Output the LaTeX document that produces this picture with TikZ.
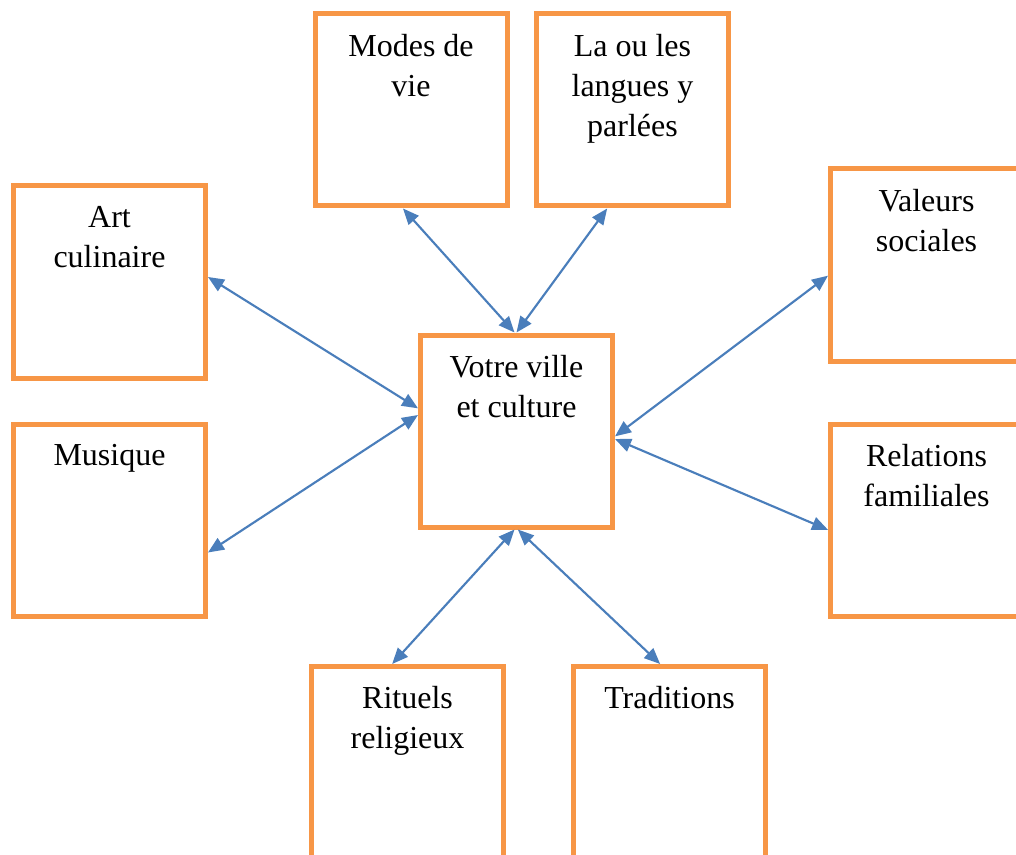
\documentclass[tikz,border=0pt]{standalone}
\usepackage{fontspec}
\setmainfont{Liberation Serif}
\usetikzlibrary{arrows.meta}
\definecolor{boxorange}{HTML}{F79646}
\definecolor{linkblue}{HTML}{4A7EBB}
\begin{document}
\begin{tikzpicture}[x=0.75pt,y=-0.75pt,
  topicbox/.style={draw=boxorange, line width=3.75pt, rectangle,
    minimum width=144pt, minimum height=144pt, inner sep=0pt},
  topictext/.style={anchor=north, align=center, inner sep=0pt,
    font=\fontsize{24}{30}\selectfont, yshift=-16.6pt},
  link/.style={draw=linkblue, line width=1.6pt,
    {Triangle[length=12pt,width=10pt]}-{Triangle[length=12pt,width=10pt]}}]
\useasboundingbox (0,0) rectangle (1016,855);

% topic boxes
\node[topicbox] (modes)     at (411,110)     {};
\node[topicbox] (langues)   at (632.5,110)   {};
\node[topicbox] (art)       at (109.5,282)   {};
\node[topicbox] (musique)   at (109.5,520.5) {};
\node[topicbox] (votre)     at (516.5,431)   {};
\node[topicbox] (valeurs)   at (926.5,265)   {};
\node[topicbox] (relations) at (926.5,520.5) {};
\node[topicbox] (rituels)   at (407.5,762.5) {};
\node[topicbox] (traditions) at (669.5,762.5) {};

% box titles
\node[topictext] (tmodes)     at (modes.north)     {Modes de\\vie};
\node[topictext] (tlangues)   at (langues.north)   {La ou les\\langues y\\parlées};
\node[topictext] (tart)       at (art.north)       {Art\\culinaire};
\node[topictext] (tmusique)   at (musique.north)   {Musique};
\node[topictext] (tvotre)     at (votre.north)     {Votre ville\\et culture};
\node[topictext] (tvaleurs)   at (valeurs.north)   {Valeurs\\sociales};
\node[topictext] (trelations) at (relations.north) {Relations\\familiales};
\node[topictext] (trituels)   at (rituels.north)   {Rituels\\religieux};
\node[topictext] (ttraditions) at (traditions.north) {Traditions};

% two-way links to the centre
\draw[link] ([xshift=-6pt]modes.south)      -- ([xshift=-1.5pt]votre.north);
\draw[link] ([xshift=-19pt]langues.south)   -- ([xshift=0pt]votre.north);
\draw[link] ([yshift=3.75pt]art.east)       -- ([yshift=17pt]votre.west);
\draw[link] ([yshift=-24pt]musique.east)    -- ([yshift=12pt]votre.west);
\draw[link] ([yshift=-8pt]valeurs.west)     -- ([yshift=-4pt]votre.east);
\draw[link] ([yshift=-7pt]relations.west)   -- ([yshift=-6pt]votre.east);
\draw[link] ([xshift=-11.5pt]rituels.north) -- ([xshift=-1.5pt]votre.south);
\draw[link] ([xshift=-7pt]traditions.north) -- ([xshift=1pt]votre.south);
\end{tikzpicture}
\end{document}
